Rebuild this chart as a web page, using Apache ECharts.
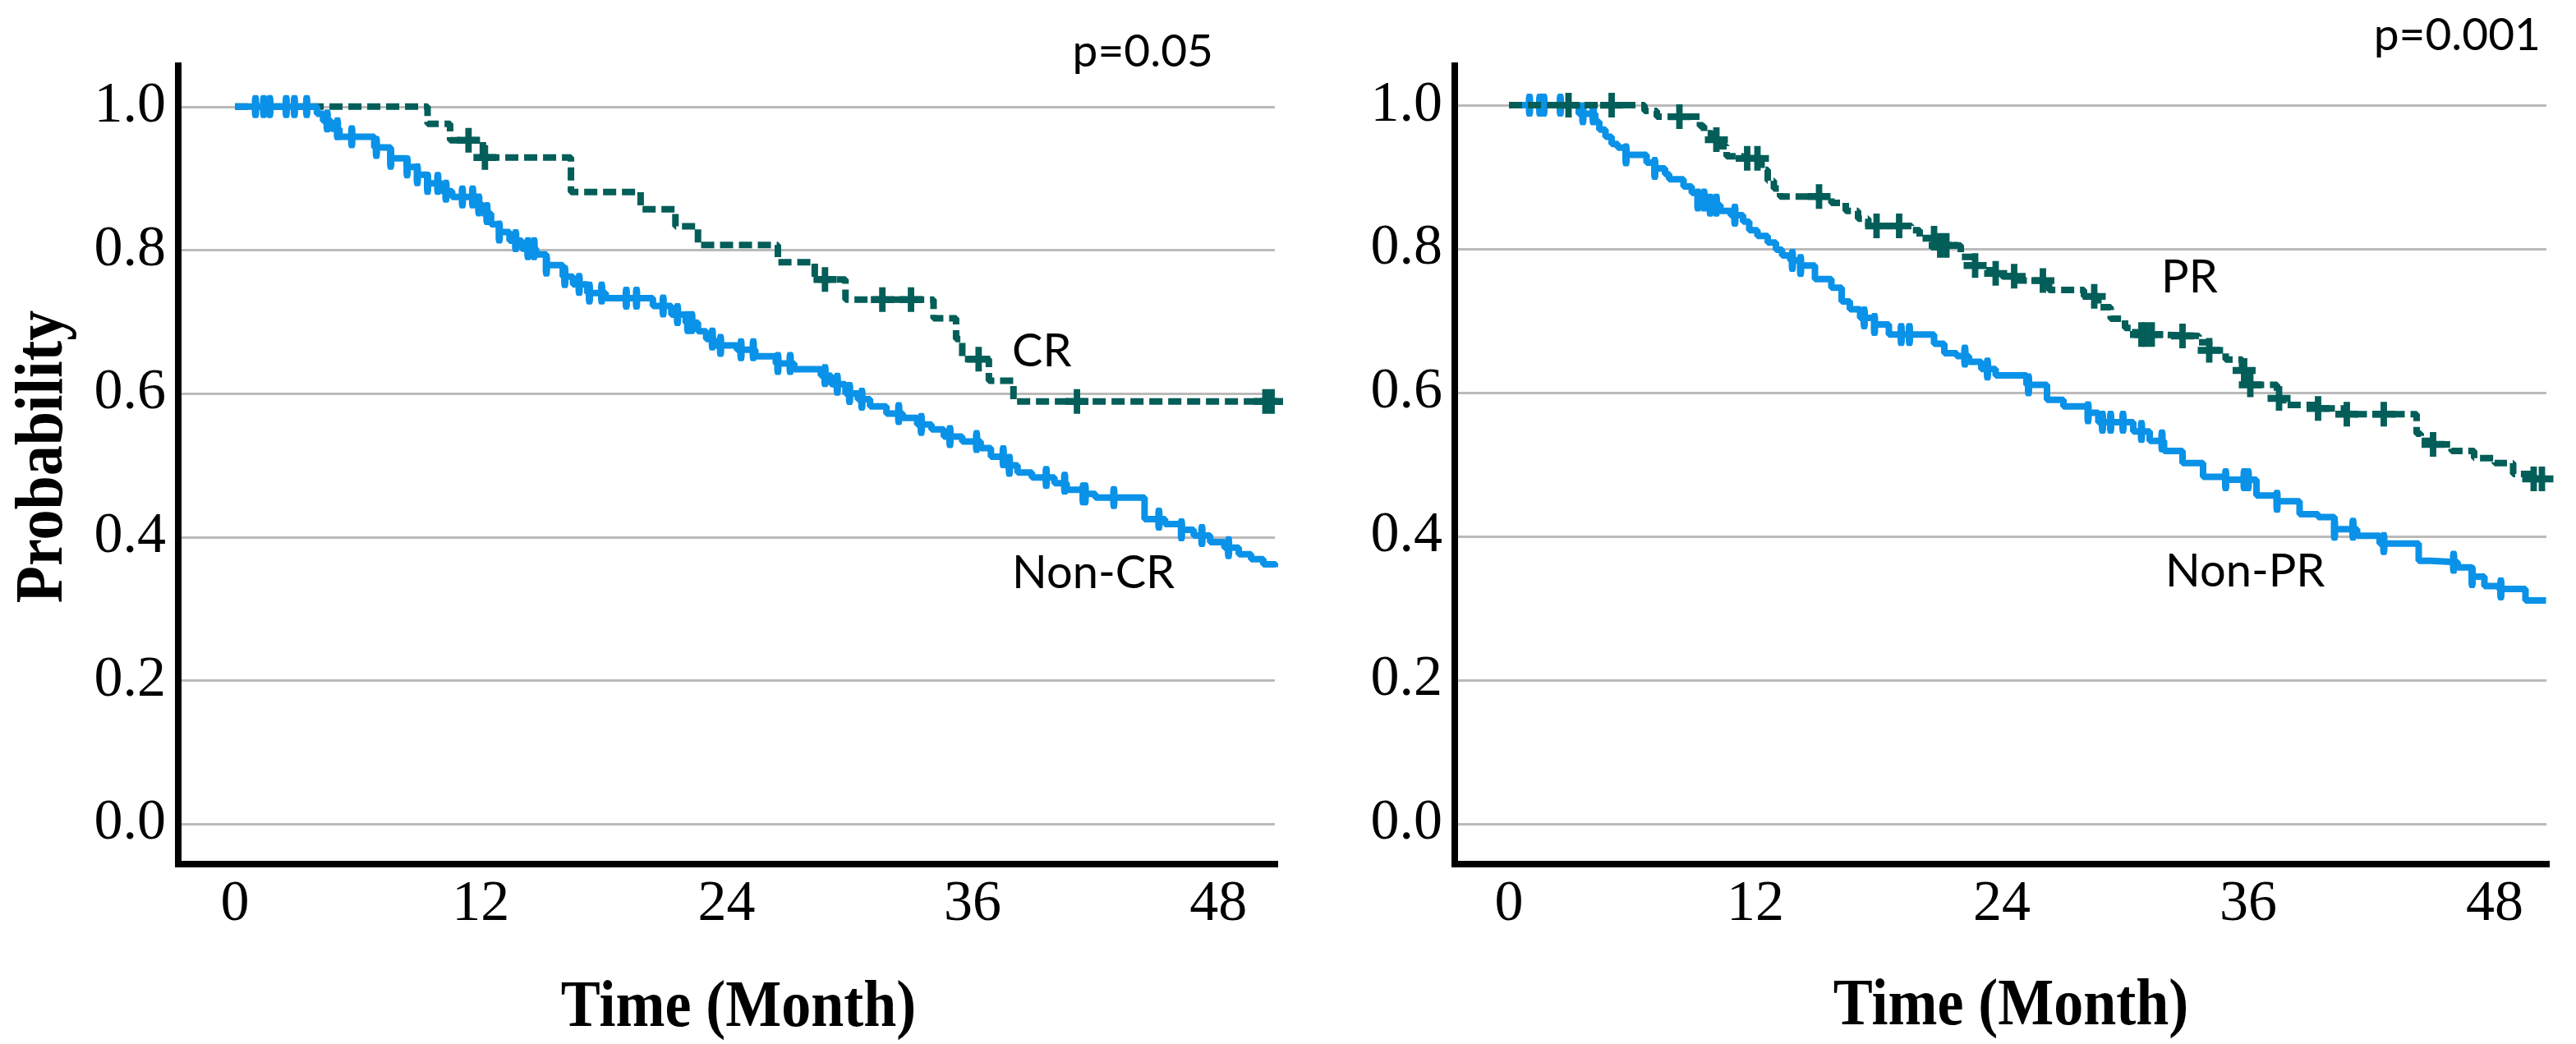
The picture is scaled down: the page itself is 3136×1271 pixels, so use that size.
<!DOCTYPE html>
<html>
<head>
<meta charset="utf-8">
<script src="https://cdn.jsdelivr.net/npm/echarts@6/dist/echarts.min.js"></script>
<style>
html,body{margin:0;padding:0;background:#ffffff;}
#chart{width:3136px;height:1271px;}
</style>
</head>
<body>
<div id="chart"></div>
<script>
// ---------- data ----------
const xTickValues = [0, 12, 24, 36, 48];
const yTickValues = [0, 0.2, 0.4, 0.6, 0.8, 1.0];

// Left panel: CR (dashed) vs Non-CR (solid)
const crSteps = [[0,1.0],[9.4,0.976],[10.5,0.953],[12.1,0.929],[16.4,0.881],[19.8,0.857],[21.5,0.833],[22.6,0.807],[26.5,0.783],[28.3,0.759],[29.8,0.731],[34.1,0.705],[35.2,0.676],[35.5,0.648],[36.8,0.618],[38.0,0.589],[50.7,0.589]];
const crCensor = [11.4,12.2,28.8,31.6,33.0,36.3,41.1,50.3,50.6];

const nonCrSteps = [[0,1.0],[4.0,0.99],[4.3,0.98],[4.7,0.969],[5.1,0.958],[6.8,0.943],[7.6,0.928],[8.4,0.916],[8.9,0.905],[9.4,0.893],[10.1,0.882],[10.6,0.874],[11.8,0.863],[12.1,0.851],[12.5,0.836],[12.9,0.825],[13.4,0.813],[14.0,0.802],[14.7,0.794],[15.2,0.779],[16.0,0.763],[16.5,0.752],[17.2,0.740],[18.1,0.733],[20.4,0.722],[21.3,0.710],[22.0,0.699],[22.6,0.687],[23.0,0.676],[23.4,0.667],[24.5,0.661],[25.4,0.652],[26.4,0.642],[27.3,0.634],[28.6,0.625],[29.1,0.613],[29.8,0.600],[30.4,0.592],[31.0,0.582],[31.8,0.572],[32.6,0.566],[33.3,0.557],[34.0,0.550],[34.6,0.540],[35.5,0.533],[36.4,0.524],[36.9,0.512],[37.6,0.500],[38.2,0.490],[38.9,0.483],[40.0,0.475],[40.6,0.466],[41.4,0.460],[42.0,0.455],[44.4,0.425],[45.4,0.418],[46.2,0.410],[46.8,0.402],[47.6,0.393],[48.3,0.385],[49.0,0.376],[49.6,0.369],[50.2,0.362],[50.8,0.358]];
const nonCrCensor = [1.0,1.4,1.7,2.5,2.9,3.5,4.5,5.0,5.7,6.9,7.6,8.4,8.9,9.4,9.9,10.3,11.1,11.6,11.9,12.3,12.9,13.7,14.3,14.6,15.2,16.1,16.8,17.3,17.9,19.1,19.6,20.9,21.6,22.1,22.3,23.3,23.7,24.7,25.3,26.5,27.1,28.8,29.4,30.0,30.6,32.4,33.5,34.9,36.2,37.5,37.8,39.6,40.5,41.4,41.5,42.9,45.1,46.2,47.2,48.5];

// Right panel: PR (dashed) vs Non-PR (solid)
const prSteps = [[0,1.0],[6.6,0.992],[7.2,0.984],[9.3,0.971],[9.5,0.961],[9.9,0.952],[10.2,0.943],[10.6,0.929],[11.4,0.926],[12.3,0.910],[12.6,0.895],[12.9,0.884],[13.2,0.873],[15.7,0.864],[16.4,0.853],[17.0,0.842],[17.5,0.832],[19.6,0.826],[20.0,0.815],[20.9,0.805],[22.0,0.789],[22.6,0.777],[23.4,0.766],[24.0,0.762],[24.7,0.756],[26.3,0.743],[28.0,0.734],[28.7,0.719],[29.3,0.703],[30.0,0.690],[30.5,0.681],[31.5,0.679],[33.6,0.670],[34.1,0.659],[34.9,0.646],[35.7,0.631],[36.0,0.611],[37.4,0.592],[37.7,0.583],[39.4,0.578],[40.7,0.570],[44.2,0.543],[44.4,0.533],[45.0,0.528],[45.9,0.519],[47.0,0.509],[48.0,0.502],[48.9,0.487],[49.9,0.480],[50.5,0.480]];
const prCensor = [2.9,5.0,8.3,10.1,11.6,12.1,15.1,17.9,19.0,20.7,21.0,21.3,22.7,23.7,24.6,26.0,28.5,30.8,31.0,31.3,32.8,34.1,35.8,36.1,37.5,39.4,40.8,42.6,45.0,49.9,50.3];

const nonPrSteps = [[0,1.0],[3.4,0.988],[4.2,0.977],[4.4,0.966],[4.7,0.956],[5.0,0.946],[5.3,0.941],[5.7,0.931],[6.7,0.920],[7.1,0.912],[7.6,0.904],[7.8,0.897],[8.5,0.887],[8.9,0.878],[9.2,0.868],[9.6,0.861],[10.3,0.853],[10.8,0.847],[11.4,0.838],[11.7,0.826],[12.1,0.818],[12.6,0.809],[13.0,0.799],[13.3,0.791],[13.7,0.784],[14.2,0.777],[14.9,0.758],[15.7,0.746],[16.2,0.727],[16.6,0.716],[17.1,0.704],[17.8,0.695],[18.5,0.681],[20.7,0.668],[21.2,0.655],[21.8,0.651],[22.4,0.643],[23.0,0.633],[23.7,0.624],[25.2,0.611],[26.2,0.590],[27.0,0.581],[28.2,0.572],[28.7,0.559],[30.4,0.546],[31.2,0.533],[31.9,0.519],[32.8,0.502],[33.8,0.483],[34.9,0.479],[36.4,0.457],[37.4,0.449],[38.5,0.431],[39.4,0.427],[40.2,0.410],[41.3,0.401],[42.4,0.390],[44.3,0.366],[44.9,0.364],[46.2,0.357],[46.9,0.344],[47.5,0.331],[48.2,0.327],[49.5,0.311],[50.5,0.311]];
const nonPrCensor = [1.0,1.5,1.7,2.5,3.6,4.1,5.7,7.1,9.2,9.5,9.8,10.1,11.0,13.8,14.2,17.3,17.8,19.1,19.5,22.2,23.3,25.3,28.2,28.9,29.3,29.9,30.8,31.8,34.9,35.8,36.0,37.4,40.2,41.1,42.6,46.0,46.9,48.3];

// ---------- helpers ----------
function survivalAt(steps, t) {
  let v = steps[0][1];
  for (const p of steps) { if (p[0] <= t) v = p[1]; else break; }
  return v;
}
function censorPoints(steps, times) {
  return times.map(t => [t, survivalAt(steps, t)]);
}

const BLUE = '#0a92e8';
const TEAL = '#035e59';
const PLUS = 'path://M3.6,0 H6.4 V3.6 H10 V6.4 H6.4 V10 H3.6 V6.4 H0 V3.6 H3.6 Z';
const serif = '"Liberation Serif", "Times New Roman", serif';
const sans = 'Lato, "Open Sans", sans-serif';

function xAxisCfg(gridIndex, min, max) {
  return {
    type: 'value', gridIndex: gridIndex, min: min, max: max,
    axisLine: { show: true, onZero: false, lineStyle: { color: '#000', width: 8, cap: 'square' } },
    axisTick: { show: false, customValues: xTickValues },
    splitLine: { show: false },
    axisLabel: { customValues: xTickValues, color: '#000', fontFamily: serif, fontSize: 70, margin: 15 }
  };
}
function yAxisCfg(gridIndex, min, max) {
  return {
    type: 'value', gridIndex: gridIndex, min: min, max: max,
    axisLine: { show: true, onZero: false, lineStyle: { color: '#000', width: 8, cap: 'square' } },
    axisTick: { show: false, customValues: yTickValues },
    splitLine: { show: true, lineStyle: { color: '#bababa', width: 3 } },
    axisLabel: { customValues: yTickValues, color: '#000', fontFamily: serif, fontSize: 70, margin: 15,
      formatter: v => Number(v).toFixed(1) }
  };
}

function lineSeries(idx, steps, color, dashed, z) {
  return {
    type: 'line', xAxisIndex: idx, yAxisIndex: idx, step: 'end', data: steps,
    showSymbol: false, symbol: 'none', silent: true, z: z,
    lineStyle: { color: color, width: 8, type: dashed ? [16, 7] : 'solid', cap: 'butt' }
  };
}
function censorSeries(idx, steps, times, color, plus, z) {
  return {
    type: 'scatter', xAxisIndex: idx, yAxisIndex: idx, silent: true, z: z,
    data: censorPoints(steps, times),
    symbol: plus ? PLUS : 'roundRect',
    symbolSize: plus ? [28, 30] : [9, 28],
    itemStyle: { color: color, opacity: 1 }
  };
}

function txt(x, y, text, font, align, extra) {
  return Object.assign({ type: 'text', x: x, y: y,
    style: { text: text, font: font, fill: '#000', textAlign: align, textVerticalAlign: 'middle', align: align, verticalAlign: 'middle' } }, extra || {});
}

const chart = echarts.init(document.getElementById('chart'), null, { renderer: 'canvas' });
chart.setOption({
  animation: false,
  backgroundColor: '#ffffff',
  grid: [
    { left: 217, top: 80, width: 1335, height: 972, containLabel: false },
    { left: 1771, top: 80, width: 1329, height: 972, containLabel: false }
  ],
  xAxis: [ xAxisCfg(0, -2.77, 50.76), xAxisCfg(1, -2.64, 50.52) ],
  yAxis: [ yAxisCfg(0, -0.056, 1.057), yAxisCfg(1, -0.056, 1.055) ],
  series: [
    lineSeries(0, crSteps, TEAL, true, 2),
    censorSeries(0, crSteps, crCensor, TEAL, true, 3),
    lineSeries(0, nonCrSteps, BLUE, false, 4),
    censorSeries(0, nonCrSteps, nonCrCensor, BLUE, false, 5),

    lineSeries(1, nonPrSteps, BLUE, false, 2),
    censorSeries(1, nonPrSteps, nonPrCensor, BLUE, false, 3),
    lineSeries(1, prSteps, TEAL, true, 4),
    censorSeries(1, prSteps, prCensor, TEAL, true, 5)
  ],
  graphic: [
    txt(54, 556, 'Probability', 'bold 74px ' + serif, 'center', { rotation: Math.PI / 2, scaleY: 1.12 }),
    txt(899, 1228, 'Time (Month)', 'bold 72px ' + serif, 'center', { scaleY: 1.12 }),
    txt(2448, 1226, 'Time (Month)', 'bold 72px ' + serif, 'center', { scaleY: 1.12 }),
    txt(1477, 63, 'p=0.05', '55px ' + sans, 'right'),
    txt(3093, 43, 'p=0.001', '55px ' + sans, 'right'),
    txt(1232, 428, 'CR', '56px ' + sans, 'left'),
    txt(1232, 698, 'Non-CR', '56px ' + sans, 'left'),
    txt(2631, 338, 'PR', '56px ' + sans, 'left'),
    txt(2636, 696, 'Non-PR', '56px ' + sans, 'left')
  ]
});
</script>
</body>
</html>
